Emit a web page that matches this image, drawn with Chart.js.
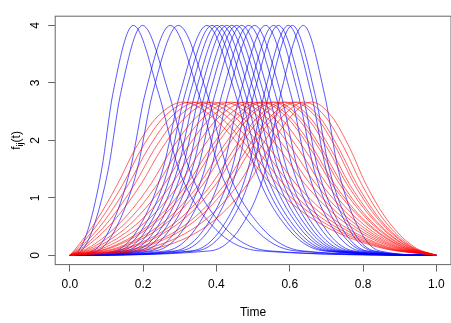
<!DOCTYPE html>
<html><head><meta charset="utf-8">
<script src="https://cdn.jsdelivr.net/npm/chart.js@4.4.1/dist/chart.umd.min.js"></script>
<style>html,body{margin:0;padding:0;background:#fff;}canvas{display:block;}</style>
</head><body>
<canvas id="c" width="451" height="323"></canvas>
<script>
const xTicks = [0, 0.2, 0.4, 0.6, 0.8, 1.0];
const yTicks = [0, 1, 2, 3, 4];

// heights at which each blue curve passes the listed times
const blueLevels = [0, 0.08, 0.5, 1.5, 2.8, 4, 2.8, 1.5, 0.5, 0.08, 0];
const blueTimes = [
 [0, 0.024, 0.052, 0.087, 0.117, 0.173, 0.243, 0.297, 0.391, 0.516, 1],
 [0, 0.032, 0.065, 0.105, 0.138, 0.198, 0.271, 0.326, 0.420, 0.543, 1],
 [0, 0.064, 0.112, 0.165, 0.205, 0.274, 0.352, 0.408, 0.500, 0.614, 1],
 [0, 0.076, 0.128, 0.184, 0.225, 0.296, 0.375, 0.430, 0.521, 0.633, 1],
 [0, 0.124, 0.190, 0.254, 0.300, 0.374, 0.452, 0.506, 0.591, 0.691, 1],
 [0, 0.134, 0.202, 0.268, 0.314, 0.388, 0.466, 0.519, 0.602, 0.700, 1],
 [0, 0.144, 0.214, 0.280, 0.327, 0.401, 0.479, 0.531, 0.613, 0.709, 1],
 [0, 0.155, 0.226, 0.294, 0.341, 0.415, 0.492, 0.544, 0.625, 0.718, 1],
 [0, 0.165, 0.239, 0.307, 0.354, 0.428, 0.505, 0.556, 0.635, 0.727, 1],
 [0, 0.177, 0.252, 0.321, 0.368, 0.442, 0.518, 0.568, 0.646, 0.735, 1],
 [0, 0.188, 0.264, 0.334, 0.381, 0.455, 0.530, 0.580, 0.656, 0.743, 1],
 [0, 0.201, 0.278, 0.349, 0.396, 0.469, 0.543, 0.592, 0.667, 0.752, 1],
 [0, 0.219, 0.298, 0.368, 0.415, 0.488, 0.561, 0.609, 0.681, 0.763, 1],
 [0, 0.234, 0.315, 0.385, 0.432, 0.504, 0.576, 0.622, 0.693, 0.773, 1],
 [0, 0.264, 0.347, 0.418, 0.464, 0.534, 0.603, 0.648, 0.715, 0.790, 1],
 [0, 0.288, 0.371, 0.442, 0.487, 0.556, 0.623, 0.666, 0.730, 0.802, 1],
 [0, 0.303, 0.386, 0.456, 0.502, 0.569, 0.635, 0.677, 0.740, 0.809, 1],
 [0, 0.334, 0.417, 0.486, 0.530, 0.596, 0.659, 0.699, 0.758, 0.823, 1],
 [0, 0.347, 0.430, 0.499, 0.543, 0.607, 0.669, 0.708, 0.766, 0.829, 1],
 [0, 0.384, 0.467, 0.534, 0.575, 0.637, 0.695, 0.732, 0.786, 0.844, 1]
];

// heights at which each red curve passes the listed times
const redLevels = [0, 0.15, 0.6, 1.25, 1.85, 2.42, 2.667, 2.42, 1.85, 1.25, 0.6, 0.15, 0];
const redTimes = [
 [0, 0.020, 0.072, 0.131, 0.178, 0.240, 0.31, 0.387, 0.471, 0.547, 0.671, 0.837, 1],
 [0, 0.025, 0.082, 0.146, 0.195, 0.259, 0.33, 0.407, 0.490, 0.565, 0.686, 0.845, 1],
 [0, 0.031, 0.094, 0.161, 0.213, 0.278, 0.35, 0.427, 0.509, 0.582, 0.699, 0.852, 1],
 [0, 0.037, 0.107, 0.178, 0.231, 0.298, 0.37, 0.447, 0.528, 0.599, 0.713, 0.860, 1],
 [0, 0.044, 0.120, 0.195, 0.250, 0.318, 0.39, 0.466, 0.546, 0.616, 0.726, 0.867, 1],
 [0, 0.056, 0.142, 0.222, 0.278, 0.348, 0.42, 0.495, 0.572, 0.640, 0.744, 0.876, 1],
 [0, 0.065, 0.158, 0.240, 0.298, 0.368, 0.44, 0.514, 0.590, 0.655, 0.756, 0.883, 1],
 [0, 0.076, 0.174, 0.259, 0.318, 0.388, 0.46, 0.533, 0.607, 0.670, 0.768, 0.889, 1],
 [0, 0.087, 0.192, 0.279, 0.339, 0.409, 0.48, 0.552, 0.624, 0.685, 0.779, 0.894, 1],
 [0, 0.100, 0.210, 0.300, 0.360, 0.430, 0.50, 0.570, 0.640, 0.700, 0.790, 0.900, 1],
 [0, 0.114, 0.230, 0.321, 0.382, 0.451, 0.52, 0.589, 0.657, 0.714, 0.801, 0.905, 1],
 [0, 0.121, 0.239, 0.332, 0.392, 0.462, 0.53, 0.598, 0.665, 0.721, 0.806, 0.908, 1],
 [0, 0.137, 0.260, 0.354, 0.414, 0.483, 0.55, 0.616, 0.681, 0.735, 0.816, 0.913, 1],
 [0, 0.146, 0.271, 0.365, 0.425, 0.493, 0.56, 0.625, 0.688, 0.742, 0.821, 0.916, 1],
 [0, 0.164, 0.293, 0.388, 0.448, 0.515, 0.58, 0.643, 0.704, 0.755, 0.831, 0.921, 1],
 [0, 0.173, 0.305, 0.400, 0.459, 0.526, 0.59, 0.652, 0.712, 0.762, 0.836, 0.923, 1],
 [0, 0.194, 0.329, 0.424, 0.483, 0.548, 0.61, 0.670, 0.728, 0.775, 0.845, 0.928, 1],
 [0, 0.204, 0.341, 0.436, 0.494, 0.559, 0.62, 0.679, 0.735, 0.782, 0.850, 0.930, 1],
 [0, 0.227, 0.366, 0.461, 0.518, 0.581, 0.64, 0.696, 0.750, 0.795, 0.859, 0.934, 1],
 [0, 0.251, 0.392, 0.486, 0.542, 0.603, 0.66, 0.714, 0.765, 0.807, 0.868, 0.939, 1]
];

const FONT = '"Liberation Sans", Arial, Helvetica, sans-serif';

function makeSet(times, levels, color) {
  return {
    data: times.map((t, i) => ({x: t, y: levels[i]})),
    borderColor: color,
    borderWidth: 1,
    pointRadius: 0,
    fill: false,
    cubicInterpolationMode: 'monotone'
  };
}

const datasets = [];
redTimes.forEach(t => datasets.push(makeSet(t, redLevels, 'rgba(255,0,0,0.6)')));
blueTimes.forEach(t => datasets.push(makeSet(t, blueLevels, 'rgba(0,0,255,0.65)')));

const boxPlugin = {
  id: 'box',
  afterDraw(chart) {
    const ctx = chart.ctx, a = chart.chartArea;
    ctx.save();
    ctx.strokeStyle = '#666';
    ctx.lineWidth = 1;
    ctx.strokeRect(a.left, a.top, a.right - a.left, a.bottom - a.top);
    // y label f_ij(t)
    ctx.translate(16, (a.top + a.bottom) / 2);
    ctx.rotate(-Math.PI / 2);
    ctx.fillStyle = '#000';
    ctx.textBaseline = 'alphabetic';
    const big = '12px ' + FONT, small = '9px ' + FONT;
    ctx.font = big;
    const w1 = ctx.measureText('f').width, w3 = ctx.measureText('(t)').width;
    ctx.font = small;
    const w2 = ctx.measureText('ij').width;
    let x = -(w1 + w2 + w3) / 2;
    ctx.font = big; ctx.fillText('f', x, 4); x += w1;
    ctx.font = small; ctx.fillText('ij', x, 7); x += w2;
    ctx.font = big; ctx.fillText('(t)', x, 4);
    ctx.restore();
  }
};

new Chart(document.getElementById('c'), {
  type: 'line',
  data: {datasets},
  plugins: [boxPlugin],
  options: {
    responsive: false,
    devicePixelRatio: 1,
    animation: false,
    events: [],
    layout: {padding: {top: 4.4, right: -2.8, left: 0, bottom: 0}},
    plugins: {legend: {display: false}, tooltip: {enabled: false}},
    scales: {
      x: {
        type: 'linear', min: -0.04, max: 1.04,
        afterBuildTicks: s => { s.ticks = xTicks.map(v => ({value: v})); },
        afterFit: s => { s.height = 58.4; },
        grid: {drawOnChartArea: false, drawTicks: true, tickLength: 7, color: '#666'},
        border: {display: false},
        ticks: {color: '#000', font: {family: FONT, size: 12}, padding: 6,
                maxRotation: 0, callback: v => Number(v).toFixed(1)},
        title: {display: true, text: 'Time', color: '#000', font: {family: FONT, size: 12},
                padding: {top: 0, bottom: 3}}
      },
      y: {
        type: 'linear', min: -0.16, max: 4.16,
        afterBuildTicks: s => { s.ticks = yTicks.map(v => ({value: v})); },
        afterFit: s => { s.width = 55.2; },
        grid: {drawOnChartArea: false, drawTicks: true, tickLength: 7, color: '#666'},
        border: {display: false},
        ticks: {color: '#000', font: {family: FONT, size: 12}, padding: 9,
                minRotation: 90, maxRotation: 90, crossAlign: 'center',
                callback: v => String(v)}
      }
    }
  }
});
</script>
</body></html>
